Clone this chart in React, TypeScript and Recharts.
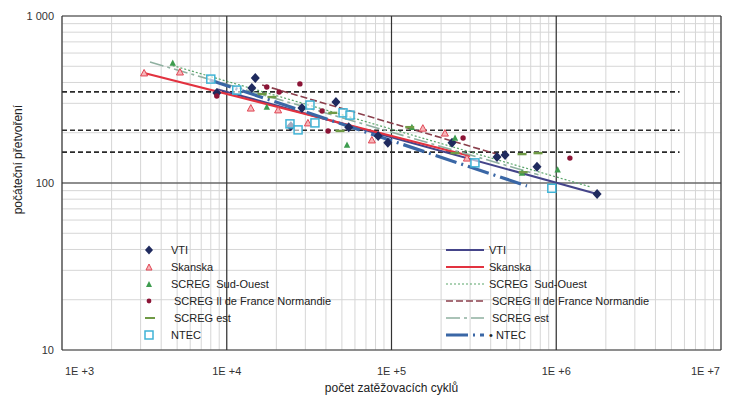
import {
  ComposedChart,
  Scatter,
  Line,
  XAxis,
  YAxis,
  CartesianGrid,
  ReferenceLine,
  Label,
} from 'recharts';

document.body.style.margin = '0';

const FONT = '"Liberation Sans", Arial, sans-serif';

// osy
const xDecades = [1e3, 1e4, 1e5, 1e6, 1e7];
const xDecadeLabels = ['1E +3', '1E +4', '1E +5', '1E +6', '1E +7'];
const yDecades = [10, 100, 1000];
const yDecadeLabels = ['10', '100', '1 000'];

// body měření [počet cyklů, přetvoření]
const vtiPoints = [
  [8700, 346], [14200, 371], [14900, 425], [24500, 219], [28600, 281], [46000, 305],
  [55000, 216], [83000, 191], [95000, 174], [233000, 174], [437000, 143], [489000, 147],
  [764000, 125], [1770000, 86],
];
const skanskaPoints = [
  [3150, 456], [5200, 462], [14000, 281], [20500, 274], [31100, 229], [76000, 181],
  [155000, 213], [211000, 199], [287000, 141],
];
const sudOuestPoints = [
  [4700, 523], [17500, 285], [53700, 169], [133000, 216], [243000, 186], [620000, 115],
  [1020000, 120],
];
const ileDeFrancePoints = [
  [8700, 332], [17500, 376], [20800, 351], [27800, 392], [37900, 270], [41200, 205],
  [272000, 186], [1210000, 141],
];
const scregEstPoints = [
  [16400, 341], [18800, 327], [44000, 263], [48700, 205], [129000, 216], [243000, 151],
  [620000, 149], [775000, 151], [630000, 116],
];
const ntecPoints = [
  [8000, 419], [11500, 360], [24200, 226], [27100, 208], [34300, 229], [32000, 293],
  [50800, 263], [56000, 255], [321000, 132], [940000, 93],
];

// regresní přímky (koncové body)
const vtiFit = [[8700, 365], [1770000, 86]];
const skanskaFit = [[3150, 456], [300000, 145]];
const sudOuestFit = [[4700, 505], [1600000, 95]];
const ileDeFranceFit = [[16400, 386], [456000, 147]];
const scregEstFit = [[3420, 530], [780000, 112]];
const ntecFit = [[7900, 414], [664000, 96]];

// vodorovné úrovně
const limitLevels = [351, 207, 153];
const limitSpan = [1000, 5600000];

const toXY = (arr: number[][]) => arr.map(([x, y]) => ({ x, y }));

const xMinor = xDecades.slice(0, -1).flatMap((d) => [1, 2, 3, 4, 5, 6, 7, 8, 9].map((m) => d * m)).concat([1e7]);
const yMinor = yDecades.slice(0, -1).flatMap((d) => [1, 2, 3, 4, 5, 6, 7, 8, 9].map((m) => d * m)).concat([1000]);

const Diamond = ({ cx, cy }: any) => (
  <path d={`M${cx},${cy - 5}L${cx + 4.5},${cy}L${cx},${cy + 5}L${cx - 4.5},${cy}Z`} fill="#1f2a5e" />
);
const RedTriangle = ({ cx, cy }: any) => (
  <path d={`M${cx},${cy - 3.5}L${cx + 3.5},${cy + 3}L${cx - 3.5},${cy + 3}Z`} fill="#f7b5b9" stroke="#e04654" strokeWidth={1} />
);
const GreenTriangle = ({ cx, cy }: any) => (
  <path d={`M${cx},${cy - 3.5}L${cx + 3.2},${cy + 2.8}L${cx - 3.2},${cy + 2.8}Z`} fill="#3d9c4e" />
);
const Dot = ({ cx, cy }: any) => <circle cx={cx} cy={cy} r={2.7} fill="#8c1436" />;
const Dash = ({ cx, cy }: any) => <rect x={cx - 4.5} y={cy - 1.2} width={9} height={2.4} fill="#6f9a45" />;
const Square = ({ cx, cy }: any) => (
  <rect x={cx - 4} y={cy - 4} width={8} height={8} fill="#ffffff" fillOpacity={0.6} stroke="#3fb3d6" strokeWidth={1.5} />
);

const XTick = ({ x, y, payload }: any) => {
  const i = xDecades.indexOf(payload.value);
  if (i < 0) return <g />;
  const first = i === 0;
  const last = i === xDecades.length - 1;
  return (
    <text
      x={first ? x + 3 : last ? x - 1 : x}
      y={y + 9}
      dy="0.71em"
      textAnchor={first ? 'start' : last ? 'end' : 'middle'}
      fontSize={11}
      fill="#333"
      fontFamily={FONT}
    >
      {xDecadeLabels[i]}
    </text>
  );
};

const yFormat = (v: number) => {
  const i = yDecades.indexOf(v);
  return i < 0 ? '' : yDecadeLabels[i];
};

const scatterSeries = [
  { name: 'VTI', data: vtiPoints, shape: Diamond },
  { name: 'Skanska', data: skanskaPoints, shape: RedTriangle },
  { name: 'SCREG  Sud-Ouest', data: sudOuestPoints, shape: GreenTriangle },
  { name: 'SCREG Il de France Normandie', data: ileDeFrancePoints, shape: Dot },
  { name: 'SCREG est', data: scregEstPoints, shape: Dash },
  { name: 'NTEC', data: ntecPoints, shape: Square },
];

const fitSeries = [
  { name: 'VTI', data: vtiFit, stroke: '#45458a', width: 2, dash: undefined },
  { name: 'Skanska', data: skanskaFit, stroke: '#e2323f', width: 2.2, dash: undefined },
  { name: 'SCREG  Sud-Ouest', data: sudOuestFit, stroke: '#5aa56a', width: 1.2, dash: '2 2' },
  { name: 'SCREG Il de France Normandie', data: ileDeFranceFit, stroke: '#8a3f4c', width: 1.6, dash: '7 3' },
  { name: 'SCREG est', data: scregEstFit, stroke: '#8fb0a0', width: 1.6, dash: '14 4 3 4' },
  { name: 'NTEC', data: ntecFit, stroke: '#3a67a6', width: 3.2, dash: '22 5 2 5' },
];

const legendMarkers = [
  <svg width={10} height={10}><path d="M5,0.5L9,5L5,9.5L1,5Z" fill="#1f2a5e" /></svg>,
  <svg width={10} height={10}><path d="M5,2L8,8L2,8Z" fill="#f7b5b9" stroke="#e04654" strokeWidth={1} /></svg>,
  <svg width={10} height={10}><path d="M5,2L8,8L2,8Z" fill="#3d9c4e" /></svg>,
  <svg width={10} height={10}><circle cx={5} cy={5} r={2.4} fill="#8c1436" /></svg>,
  <svg width={12} height={10}><rect x={1} y={4} width={10} height={2} fill="#6f9a45" /></svg>,
  <svg width={10} height={10}><rect x={1} y={1} width={8} height={8} fill="#fff" stroke="#3fb3d6" strokeWidth={1.5} /></svg>,
];

const LEG_TOP = 250;
const LEG_STEP = 17;

const legendText: React.CSSProperties = {
  position: 'absolute',
  fontSize: 11,
  fontFamily: FONT,
  color: '#222',
  whiteSpace: 'pre',
  lineHeight: '12px',
};

const ChartLegend = () => (
  <>
    {scatterSeries.map((s, i) => (
      <div key={'s' + i}>
        <div style={{ position: 'absolute', left: 144, top: LEG_TOP + i * LEG_STEP - 5, lineHeight: 0 }}>
          {legendMarkers[i]}
        </div>
        <div style={{ ...legendText, left: i === 3 || i === 4 ? 174 : 171, top: LEG_TOP + i * LEG_STEP - 6 }}>
          {s.name}
        </div>
      </div>
    ))}
    {fitSeries.map((s, i) => (
      <div key={'f' + i}>
        <svg
          width={40}
          height={6}
          style={{ position: 'absolute', left: 446, top: LEG_TOP + i * LEG_STEP - 3 }}
        >
          <line x1={0} y1={3} x2={38} y2={3} stroke={s.stroke} strokeWidth={s.width} strokeDasharray={s.dash} />
        </svg>
        <div style={{ ...legendText, left: i === 3 || i === 4 ? 492 : 489, top: LEG_TOP + i * LEG_STEP - 6 }}>
          {i === 5 ? '\u2022 ' + s.name : s.name}
        </div>
      </div>
    ))}
  </>
);

export default function App() {
  return (
    <div style={{ position: 'relative', width: 738, height: 395, background: '#fff' }}>
      <ComposedChart width={738} height={395} margin={{ top: 16, right: 17, bottom: 0, left: 0 }}>
        <CartesianGrid stroke="#d6d6d6" strokeWidth={1} />
        <XAxis
          type="number"
          dataKey="x"
          scale="log"
          domain={[1000, 10000000]}
          ticks={xMinor}
          interval={0}
          allowDataOverflow
          tick={<XTick />}
          tickLine={false}
          axisLine={{ stroke: '#333', strokeWidth: 1.2 }}
          height={45}
        >
          <Label
            content={({ viewBox }: any) => (
              <text
                x={viewBox.x + viewBox.width / 2}
                y={viewBox.y + 42}
                textAnchor="middle"
                fontSize={12}
                fill="#222"
                fontFamily={FONT}
              >
                počet zatěžovacích cyklů
              </text>
            )}
          />
        </XAxis>
        <YAxis
          type="number"
          dataKey="y"
          scale="log"
          domain={[10, 1000]}
          ticks={yMinor}
          interval={0}
          allowDataOverflow
          tickFormatter={yFormat}
          tick={{ fontSize: 11, fill: '#333', fontFamily: FONT }}
          tickLine={false}
          axisLine={{ stroke: '#333', strokeWidth: 1.2 }}
          width={62}
        >
          <Label
            content={({ viewBox }: any) => {
              const cx = viewBox.x + 18;
              const cy = viewBox.y + viewBox.height * 0.43;
              return (
                <text
                  x={cx}
                  y={cy}
                  transform={`rotate(-90 ${cx} ${cy})`}
                  textAnchor="middle"
                  dominantBaseline="central"
                  fontSize={12}
                  fill="#222"
                  fontFamily={FONT}
                >
                  počáteční přetvoření
                </text>
              );
            }}
          />
        </YAxis>
        {xDecades.slice(1).map((d) => (
          <ReferenceLine key={'vx' + d} x={d} stroke="#333" strokeWidth={1.2} />
        ))}
        {yDecades.slice(1).map((d) => (
          <ReferenceLine key={'hy' + d} y={d} stroke="#333" strokeWidth={1.2} />
        ))}
        {limitLevels.map((lv) => (
          <Line
            key={'lim' + lv}
            data={limitSpan.map((x) => ({ x, y: lv }))}
            dataKey="y"
            stroke="#2a2a2a"
            strokeWidth={1.7}
            strokeDasharray="5 3"
            dot={false}
            activeDot={false}
            legendType="none"
            isAnimationActive={false}
          />
        ))}
        {fitSeries.map((s) => (
          <Line
            key={'fit' + s.name}
            data={toXY(s.data)}
            dataKey="y"
            stroke={s.stroke}
            strokeWidth={s.width}
            strokeDasharray={s.dash}
            dot={false}
            activeDot={false}
            legendType="none"
            isAnimationActive={false}
          />
        ))}
        {scatterSeries.map((s) => (
          <Scatter
            key={'pts' + s.name}
            name={s.name}
            data={toXY(s.data)}
            shape={s.shape}
            isAnimationActive={false}
          />
        ))}
      </ComposedChart>
      <ChartLegend />
    </div>
  );
}
